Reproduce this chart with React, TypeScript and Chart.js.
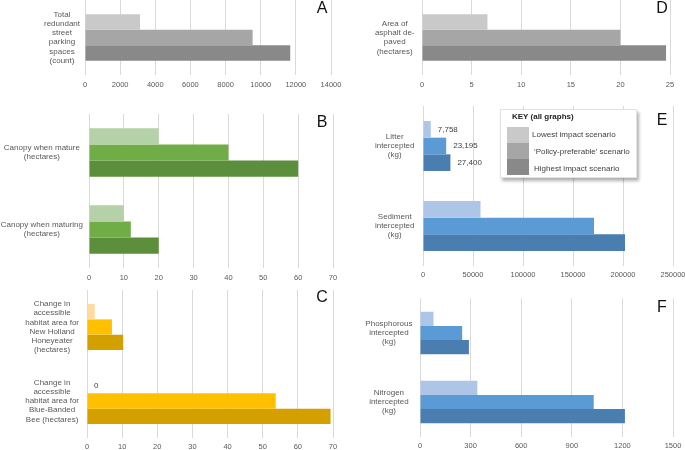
import React, { useEffect, useRef } from 'react';
import { Chart, registerables } from 'chart.js';

Chart.register(...registerables);

const FONT = "'Liberation Sans', Arial, Helvetica, sans-serif";
const TEXT = '#595959';
const GRID = '#d9d9d9';

// ---- data ----
const scenarios = ['Lowest impact scenario', '\u2018Policy-preferable\u2019 scenario', 'Highest impact scenario'];

const grayColors = ['#c9c9c9', '#a6a6a6', '#898989'];
const greenColors = ['#b5d1a7', '#70ad47', '#5b8f3b'];
const orangeColors = ['#ffd9a0', '#ffc000', '#d4a000'];
const blueColors = ['#adc6e7', '#5b9bd5', '#4a7eb0'];

// A
const categoriesA = [['Total', 'redundant', 'street', 'parking', 'spaces', '(count)']];
const lowA = [3130];
const policyA = [9540];
const highA = [11680];
const maxA = 14000;
const stepA = 2000;

// D
const categoriesD = [['Area of', 'asphalt de-', 'paved', '(hectares)']];
const lowD = [6.6];
const policyD = [20];
const highD = [24.6];
const maxD = 25;
const stepD = 5;

// B
const categoriesB = [['Canopy when mature', '(hectares)'], ['Canopy when maturing', '(hectares)']];
const lowB = [20, 10];
const policyB = [40, 12];
const highB = [60, 20];
const maxB = 70;
const stepB = 10;

// E
const categoriesE = [['Litter', 'intercepted', '(kg)'], ['Sediment', 'intercepted', '(kg)']];
const lowE = [7758, 57500];
const policyE = [23195, 171000];
const highE = [27400, 202000];
const maxE = 250000;
const stepE = 50000;
const labelledE = [true, false];

// C
const categoriesC = [
  ['Change in', 'accessible', 'habitat area for', 'New Holland', 'Honeyeater', '(hectares)'],
  ['Change in', 'accessible', 'habitat area for', 'Blue-Banded', 'Bee (hectares)'],
];
const lowC = [2.2, 0];
const policyC = [7.1, 53.7];
const highC = [10.3, 69.3];
const maxC = 70;
const stepC = 10;

// F
const categoriesF = [['Phosphorous', 'intercepted', '(kg)'], ['Nitrogen', 'intercepted', '(kg)']];
const lowF = [80, 340];
const policyF = [250, 1030];
const highF = [290, 1215];
const maxF = 1500;
const stepF = 300;

// ---- value label plugin ----
const valueLabelPlugin = {
  id: 'valueLabels',
  afterDatasetsDraw(chart: any, _args: any, opts: any) {
    const labels = opts && opts.labels;
    if (!labels) return;
    const ctx = chart.ctx;
    ctx.save();
    ctx.font = `8px ${FONT}`;
    ctx.fillStyle = '#404040';
    ctx.textAlign = 'left';
    ctx.textBaseline = 'middle';
    chart.data.datasets.forEach((_ds: any, i: number) => {
      const meta = chart.getDatasetMeta(i);
      meta.data.forEach((bar: any, j: number) => {
        const t = labels[i] && labels[i][j];
        if (t == null) return;
        ctx.fillText(t, bar.x + 7, bar.y);
      });
    });
    ctx.restore();
  },
};

type Layout = {
  left: number; top: number; w: number; h: number;
  yw: number; pr: number; pt: number; xh: number;
  cp: number; yPad: number; xPad: number;
};

type PanelProps = {
  layout: Layout;
  categories: string[][];
  series: number[][];
  colors: string[];
  max: number;
  step: number;
  labels?: (string | null)[][] | null;
};

function Panel({ layout, categories, series, colors, max, step, labels }: PanelProps) {
  const ref = useRef<HTMLCanvasElement>(null);
  useEffect(() => {
    if (!ref.current) return;
    const chart = new Chart(ref.current, {
      type: 'bar',
      data: {
        labels: categories,
        datasets: series.map((vals, i) => ({
          label: scenarios[i],
          data: vals,
          backgroundColor: colors[i],
          borderWidth: 0,
          categoryPercentage: layout.cp,
          barPercentage: 1,
        })),
      },
      plugins: [valueLabelPlugin],
      options: {
        indexAxis: 'y',
        animation: false,
        responsive: false,
        maintainAspectRatio: false,
        devicePixelRatio: 1,
        layout: { padding: { left: 0, right: layout.pr, top: layout.pt, bottom: 0 } },
        plugins: {
          legend: { display: false },
          tooltip: { enabled: false },
          title: { display: false },
          valueLabels: { labels: labels || null },
        } as any,
        scales: {
          x: {
            type: 'linear',
            min: 0,
            max,
            ticks: {
              stepSize: step,
              autoSkip: false,
              maxRotation: 0,
              padding: layout.xPad,
              color: TEXT,
              font: { family: FONT, size: 7.5 },
              callback: (v: any) => String(v),
            },
            grid: { color: GRID, lineWidth: 1, drawTicks: false },
            border: { display: false },
            afterFit: (s: any) => {
              s.height = layout.xh;
              s.paddingLeft = 0;
              s.paddingRight = 0;
              s.paddingTop = 0;
              s.paddingBottom = 0;
            },
          },
          y: {
            type: 'category',
            ticks: {
              autoSkip: false,
              crossAlign: 'center',
              padding: layout.yPad,
              color: TEXT,
              font: { family: FONT, size: 8, lineHeight: 1.16 },
            },
            grid: { display: false, drawTicks: false },
            border: { display: false },
            afterFit: (s: any) => {
              s.width = layout.yw;
              s.paddingTop = 0;
              s.paddingBottom = 0;
              s.paddingLeft = 0;
              s.paddingRight = 0;
            },
          },
        },
      } as any,
    });
    return () => chart.destroy();
  }, []);
  return (
    <canvas
      ref={ref}
      width={layout.w}
      height={layout.h}
      style={{ position: 'absolute', left: layout.left, top: layout.top, width: layout.w, height: layout.h, display: 'block' }}
    />
  );
}

const letterStyle = (x: number, y: number): React.CSSProperties => ({
  position: 'absolute',
  left: x,
  top: y,
  transform: 'translate(-50%, -50%)',
  fontFamily: FONT,
  fontSize: 16,
  lineHeight: '16px',
  color: '#111',
});

function Legend() {
  const rows = [
    { top: 17.4, text: scenarios[0], color: grayColors[0], tx: 31, ty: 25 },
    { top: 33.2, text: scenarios[1], color: grayColors[1], tx: 33, ty: 41.7 },
    { top: 49.0, text: scenarios[2], color: grayColors[2], tx: 33, ty: 59 },
  ];
  return (
    <div
      style={{
        position: 'absolute', left: 500, top: 109, width: 137, height: 69,
        background: '#fff', border: '1px solid #e2e2e2', boxSizing: 'border-box',
        boxShadow: '2px 3px 3px rgba(0,0,0,0.3)', fontFamily: FONT, color: '#404040',
      }}
    >
      <div style={{ position: 'absolute', left: 11, top: 1.5, fontSize: 8, lineHeight: '10px', fontWeight: 'bold', color: '#222', whiteSpace: 'nowrap' }}>
        KEY (all graphs)
      </div>
      {rows.map((r, i) => (
        <React.Fragment key={i}>
          <div style={{ position: 'absolute', left: 6, top: r.top, width: 22, height: 15.8, background: r.color }} />
          <div style={{ position: 'absolute', left: r.tx, top: r.ty - 5, fontSize: 8, lineHeight: '10px', whiteSpace: 'nowrap', color: '#404040' }}>
            {r.text}
          </div>
        </React.Fragment>
      ))}
    </div>
  );
}

export default function App() {
  const labelsE = [lowE, policyE, highE].map((arr) =>
    arr.map((v, j) => (labelledE[j] ? v.toLocaleString('en-US') : null))
  );
  const labelsC = [lowC.map((v, j) => (j === 1 ? String(v) : null)), [null, null], [null, null]];
  return (
    <div style={{ position: 'absolute', left: 0, top: 0, width: 685, height: 450, overflow: 'hidden', background: '#fff' }}>
      <Panel
        layout={{ left: 0, top: 0, w: 345, h: 100, yw: 85, pr: 14, pt: 0, xh: 25, cp: 0.62, yPad: 5, xPad: 5.5 }}
        categories={categoriesA} series={[lowA, policyA, highA]} colors={grayColors} max={maxA} step={stepA}
      />
      <Panel
        layout={{ left: 340, top: 0, w: 345, h: 100, yw: 82, pr: 15, pt: 0, xh: 25, cp: 0.62, yPad: 7.5, xPad: 5.5 }}
        categories={categoriesD} series={[lowD, policyD, highD]} colors={grayColors} max={maxD} step={stepD}
      />
      <Panel
        layout={{ left: 0, top: 100, w: 345, h: 190, yw: 89, pr: 12, pt: 14, xh: 22, cp: 0.63, yPad: 6, xPad: 5.5 }}
        categories={categoriesB} series={[lowB, policyB, highB]} colors={greenColors} max={maxB} step={stepB}
      />
      <Panel
        layout={{ left: 340, top: 100, w: 345, h: 190, yw: 83, pr: 12, pt: 6, xh: 24, cp: 0.625, yPad: 8.5, xPad: 4.5 }}
        categories={categoriesE} series={[lowE, policyE, highE]} colors={blueColors} max={maxE} step={stepE}
        labels={labelsE}
      />
      <Panel
        layout={{ left: 0, top: 290, w: 345, h: 160, yw: 87, pr: 12, pt: 0, xh: 12, cp: 0.62, yPad: 8, xPad: 4.2 }}
        categories={categoriesC} series={[lowC, policyC, highC]} colors={orangeColors} max={maxC} step={stepC}
        labels={labelsC}
      />
      <Panel
        layout={{ left: 340, top: 290, w: 345, h: 160, yw: 80, pr: 12, pt: 8.5, xh: 13.5, cp: 0.617, yPad: 7.5, xPad: 5 }}
        categories={categoriesF} series={[lowF, policyF, highF]} colors={blueColors} max={maxF} step={stepF}
      />
      <Legend />
      <div style={letterStyle(322, 8)}>A</div>
      <div style={letterStyle(322, 122)}>B</div>
      <div style={letterStyle(322, 297)}>C</div>
      <div style={letterStyle(662, 8)}>D</div>
      <div style={letterStyle(662, 120)}>E</div>
      <div style={letterStyle(662, 307)}>F</div>
    </div>
  );
}
